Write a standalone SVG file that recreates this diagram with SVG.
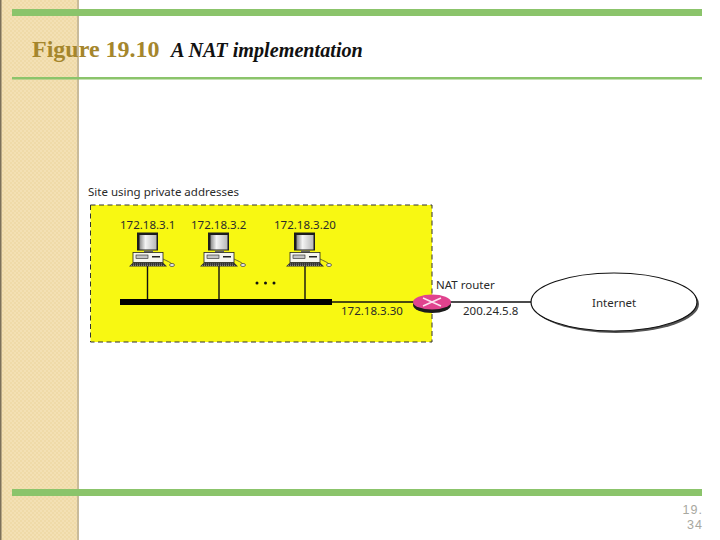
<svg xmlns="http://www.w3.org/2000/svg" width="720" height="540" viewBox="0 0 720 540">
<style>
.l{font-family:"Noto Sans","Open Sans",sans-serif;font-size:11.5px;fill:#2a2a2a}
.w{stroke:#111;stroke-width:1.4;fill:none}
.bar{fill:#8bc46b}
.pg{font-family:"Liberation Sans",Arial,sans-serif;font-size:12.5px;fill:#a8a8a0;text-anchor:end;letter-spacing:1px}
</style>
<defs>
<linearGradient id="scr" x1="0" x2="1" y1="0" y2="0">
<stop offset="0" stop-color="#8a8a8a"/><stop offset=".35" stop-color="#f4f4f4"/><stop offset="1" stop-color="#b8b8b8"/>
</linearGradient>
<pattern id="tex" width="4" height="4" patternUnits="userSpaceOnUse">
<rect width="4" height="4" fill="#f3e0b4"/>
<rect width="2" height="2" fill="#efdaa8"/>
<rect x="2" y="2" width="2" height="2" fill="#efdaa8"/>
</pattern>
<g id="pc">
<rect x="-11" y="-33.500" width="21" height="18" fill="#1c1c1c"/>
<rect x="-8.500" y="-31" width="17" height="14.500" fill="url(#scr)"/>
<rect x="-4" y="-15.500" width="9" height="2" fill="#666"/>
<rect x="-15" y="-13.500" width="30" height="10" fill="#f6f6ee" stroke="#222" stroke-width=".8"/>
<rect x="-12" y="-11" width="12" height="3.500" fill="#c4c4c4" stroke="#222" stroke-width=".6"/>
<rect x="4" y="-10" width="8" height="1.500" fill="#222"/>
<path d="M-15-3.500H15L19 0.500H-19Z" fill="#333"/>
<path d="M-15-2H15M-17-.5H17" stroke="#bbb" stroke-width=".6" stroke-dasharray="1 1"/>
<path d="M15-7C19-5 22-4 24-2" fill="none" stroke="#333" stroke-width=".7"/>
<ellipse cx="24" cy="-1" rx="2.500" ry="1.500" fill="#eee" stroke="#333" stroke-width=".7"/>
</g>
</defs>
<rect width="720" height="540" fill="#fff"/>
<g id="background">
<rect x="0" y="0" width="78" height="540" fill="url(#tex)"/>
<rect x="0" y="0" width="1.500" height="540" fill="#7d715a"/>
<rect x="77" y="0" width="2" height="540" fill="#c9bb9a"/>
<rect class="bar" x="12" y="9" width="690" height="7"/>
<rect class="bar" x="12" y="77" width="690" height="2.500"/>
<rect class="bar" x="12" y="489" width="690" height="7"/>
</g>
<g id="title">
<text x="32" y="57" font-family="Liberation Serif,serif" font-weight="bold" font-size="24" fill="#a5862c">Figure 19.10</text>
<text x="171" y="57" font-family="Liberation Serif,serif" font-weight="bold" font-style="italic" font-size="20.200" fill="#111">A NAT implementation</text>
</g>
<g id="site">
<rect x="90.500" y="205" width="341.500" height="137" fill="#f8f812" stroke="#333" stroke-width="1" stroke-dasharray="5 3.500"/>
<text class="l" x="88" y="196">Site using private addresses</text>
</g>
<g id="connectors">
<path class="w" d="M147.500 266V301M219 266V301M305 266V301M332 302H414M449 302H532"/>
<rect x="120" y="299" width="212" height="6" fill="#000"/>
</g>
<g id="host1"><use href="#pc" x="148" y="266"/><text class="l" x="120" y="229">172.18.3.1</text></g>
<g id="host2"><use href="#pc" x="219" y="266"/><text class="l" x="191" y="229">172.18.3.2</text></g>
<g id="host3"><use href="#pc" x="305" y="266"/><text class="l" x="274" y="229">172.18.3.20</text></g>
<g id="dots" fill="#111"><circle cx="257" cy="283" r="1.500"/><circle cx="265.500" cy="283" r="1.500"/><circle cx="274" cy="283" r="1.500"/></g>
<g id="router">
<ellipse cx="432" cy="305" rx="19" ry="8" fill="#1c1c1c"/>
<ellipse cx="432" cy="302" rx="19" ry="7.500" fill="#e0438e"/>
<path d="M423 298L441 306M423 306L441 298" stroke="#fbe4ef" stroke-width="1.500"/>
<text class="l" x="436" y="289">NAT router</text>
<text class="l" x="341" y="315">172.18.3.30</text>
<text class="l" x="463" y="315">200.24.5.8</text>
</g>
<g id="internet">
<ellipse cx="616" cy="304" rx="83" ry="29" fill="#555"/>
<ellipse cx="614" cy="302" rx="83" ry="29" fill="#fff" stroke="#111" stroke-width="1.200"/>
<text class="l" x="592" y="307">Internet</text>
</g>
<g id="page"><text class="pg" x="703" y="514">19.</text><text class="pg" x="703" y="529">34</text></g>
</svg>
